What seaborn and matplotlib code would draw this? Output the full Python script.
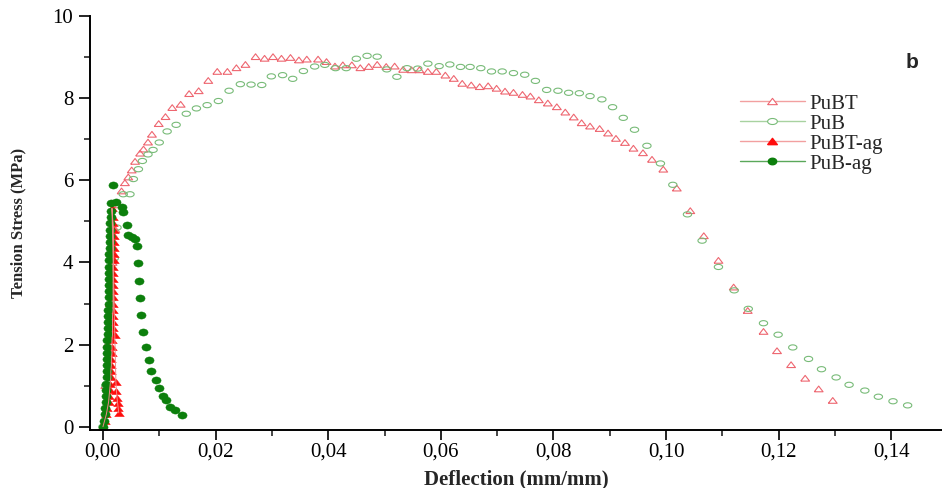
import numpy as np
import matplotlib
matplotlib.use('Agg')
import matplotlib.pyplot as plt
from matplotlib.lines import Line2D
from matplotlib.ticker import MultipleLocator, FuncFormatter
import seaborn as sns

# PuBT (open triangles)
pubt_x = [0.0000, 0.0004, 0.0008, 0.0012, 0.0017, 0.0022, 0.0028, 0.0033, 0.0039, 0.0045,
          0.0051, 0.0057, 0.0066, 0.0072, 0.0080, 0.0087, 0.0099, 0.0111, 0.0123, 0.0138,
          0.0153, 0.0170, 0.0187, 0.0203, 0.0221, 0.0237, 0.0253, 0.0271, 0.0287, 0.0302,
          0.0317, 0.0333, 0.0348, 0.0362, 0.0382, 0.0397, 0.0412, 0.0426, 0.0442, 0.0457,
          0.0472, 0.0487, 0.0503, 0.0518, 0.0533, 0.0548, 0.0562, 0.0577, 0.0592, 0.0608,
          0.0623, 0.0638, 0.0654, 0.0669, 0.0684, 0.0699, 0.0714, 0.0729, 0.0745, 0.0759,
          0.0774, 0.0790, 0.0806, 0.0821, 0.0836, 0.0850, 0.0865, 0.0882, 0.0897, 0.0911,
          0.0927, 0.0942, 0.0959, 0.0975, 0.0995, 0.1019, 0.1043, 0.1067, 0.1093, 0.1120,
          0.1145, 0.1173, 0.1197, 0.1222, 0.1247, 0.1271, 0.1296]
pubt_y = [0.00, 1.00, 2.00, 3.00, 4.00, 4.80, 5.40, 5.74, 5.94, 6.08,
          6.25, 6.46, 6.66, 6.76, 6.93, 7.12, 7.38, 7.55, 7.77, 7.85,
          8.11, 8.18, 8.43, 8.65, 8.65, 8.74, 8.82, 9.01, 8.97, 9.01,
          8.97, 8.99, 8.93, 8.95, 8.95, 8.89, 8.78, 8.81, 8.81, 8.74,
          8.77, 8.82, 8.77, 8.78, 8.70, 8.69, 8.69, 8.65, 8.65, 8.56,
          8.48, 8.36, 8.32, 8.28, 8.30, 8.24, 8.17, 8.14, 8.09, 8.05,
          7.96, 7.88, 7.79, 7.66, 7.54, 7.40, 7.32, 7.26, 7.15, 7.02,
          6.92, 6.78, 6.67, 6.51, 6.27, 5.81, 5.26, 4.65, 4.05, 3.40,
          2.83, 2.32, 1.85, 1.51, 1.18, 0.92, 0.64]

# PuB (open circles)
pub_x = [0.0000, 0.0005, 0.0010, 0.0015, 0.0020, 0.0025, 0.0036, 0.0048, 0.0054, 0.0063,
         0.0070, 0.0080, 0.0089, 0.0100, 0.0114, 0.0130, 0.0148, 0.0166, 0.0185, 0.0205,
         0.0224, 0.0244, 0.0263, 0.0282, 0.0299, 0.0319, 0.0337, 0.0356, 0.0376, 0.0394,
         0.0413, 0.0432, 0.0450, 0.0469, 0.0487, 0.0504, 0.0522, 0.0540, 0.0559, 0.0577,
         0.0597, 0.0616, 0.0635, 0.0652, 0.0671, 0.0690, 0.0709, 0.0729, 0.0749, 0.0768,
         0.0788, 0.0808, 0.0827, 0.0846, 0.0865, 0.0886, 0.0905, 0.0924, 0.0944, 0.0966,
         0.0990, 0.1012, 0.1038, 0.1064, 0.1093, 0.1121, 0.1146, 0.1173, 0.1199, 0.1225,
         0.1253, 0.1276, 0.1302, 0.1325, 0.1353, 0.1377, 0.1403, 0.1429]
pub_y = [0.00, 1.00, 2.10, 3.10, 4.10, 4.85, 5.66, 5.66, 6.03, 6.27,
         6.47, 6.63, 6.74, 6.92, 7.19, 7.35, 7.62, 7.75, 7.83, 7.93,
         8.18, 8.34, 8.33, 8.32, 8.53, 8.56, 8.47, 8.66, 8.77, 8.81,
         8.73, 8.73, 8.96, 9.03, 9.01, 8.70, 8.52, 8.73, 8.72, 8.84,
         8.78, 8.82, 8.76, 8.76, 8.73, 8.65, 8.65, 8.61, 8.57, 8.42,
         8.20, 8.18, 8.13, 8.12, 8.05, 7.97, 7.78, 7.52, 7.23, 6.84,
         6.41, 5.89, 5.17, 4.53, 3.89, 3.32, 2.87, 2.52, 2.24, 1.93,
         1.65, 1.40, 1.20, 1.02, 0.88, 0.73, 0.62, 0.52]

# PuBT-ag (filled triangles)
pubt_ag_x = [0.0000, 0.0003, 0.0006, 0.0008, 0.0010, 0.0011, 0.0012, 0.0013, 0.0014, 0.0014,
             0.0015, 0.0015, 0.0016, 0.0016, 0.0016, 0.0017, 0.0017, 0.0017, 0.0017, 0.0018,
             0.0018, 0.0018, 0.0018, 0.0018, 0.0018, 0.0018, 0.0018, 0.0019, 0.0019, 0.0019,
             0.0019, 0.0019, 0.0019, 0.0018, 0.0017, 0.0016,
             0.0021, 0.0023, 0.0024, 0.0025, 0.0026, 0.0027, 0.0028]
pubt_ag_y = [0.00, 0.15, 0.30, 0.45, 0.60, 0.75, 0.90, 1.05, 1.20, 1.35,
             1.50, 1.65, 1.80, 1.95, 2.10, 2.25, 2.40, 2.55, 2.70, 2.85,
             3.00, 3.15, 3.30, 3.45, 3.60, 3.75, 3.90, 4.05, 4.20, 4.35,
             4.50, 4.65, 4.80, 4.95, 5.10, 5.32,
             2.24, 1.08, 0.86, 0.70, 0.58, 0.46, 0.34]

# PuB-ag (filled circles)
pub_ag_x = [0.0000, 0.0002, 0.0003, 0.0004, 0.0005, 0.0005, 0.0006, 0.0006, 0.0007, 0.0007,
            0.0007, 0.0008, 0.0008, 0.0008, 0.0008, 0.0009, 0.0009, 0.0009, 0.0009, 0.0009,
            0.0010, 0.0010, 0.0010, 0.0010, 0.0010, 0.0011, 0.0011, 0.0011, 0.0011, 0.0012,
            0.0012, 0.0012, 0.0013, 0.0013, 0.0014, 0.0014, 0.0015, 0.0018,
            0.0023, 0.0033, 0.0036, 0.0042, 0.0045, 0.0051, 0.0057, 0.0061, 0.0063, 0.0064,
            0.0066, 0.0067, 0.0072, 0.0076, 0.0082, 0.0086, 0.0095, 0.0100, 0.0106, 0.0112,
            0.0119, 0.0128, 0.0140]
pub_ag_y = [0.00, 0.15, 0.30, 0.45, 0.60, 0.75, 0.90, 1.05, 1.20, 1.35,
            1.50, 1.65, 1.80, 1.95, 2.10, 2.25, 2.40, 2.55, 2.70, 2.85,
            3.00, 3.15, 3.30, 3.45, 3.60, 3.75, 3.90, 4.05, 4.20, 4.35,
            4.50, 4.65, 4.80, 4.95, 5.10, 5.25, 5.45, 5.89,
            5.48, 5.36, 5.24, 4.92, 4.67, 4.62, 4.57, 4.41, 3.98, 3.54,
            3.13, 2.71, 2.30, 1.94, 1.63, 1.35, 1.14, 0.94, 0.76, 0.64,
            0.49, 0.40, 0.29]

labels = ['PuBT', 'PuB', 'PuBT-ag', 'PuB-ag']

sns.set_style('ticks')
plt.rcParams['font.family'] = ['Liberation Serif', 'DejaVu Serif']

# wide markers (the source picture is stretched sideways)
tri = [(-1, -0.65), (1, -0.65), (0, 0.65), (-1, -0.65)]
t = np.linspace(0, 2 * np.pi, 40)
oval = list(zip(np.cos(t), 0.62 * np.sin(t)))
dot = list(zip(np.cos(t), 0.78 * np.sin(t)))

c_pubt = '#ee6670'
c_pub = '#78bb78'
c_red = '#ff0d0d'
c_green = '#0c7f0c'

fig = plt.figure(figsize=(9.42, 4.88), dpi=100)
ax = fig.add_axes([90 / 942, 58 / 488, 852 / 942, 414 / 488])

sns.scatterplot(x=pubt_x, y=pubt_y, marker=tri, s=40, color=c_pubt,
                facecolor='none', edgecolor=c_pubt, linewidth=0.8, ax=ax)
sns.scatterplot(x=pub_x, y=pub_y, marker=oval, s=36, color=c_pub,
                facecolor='none', edgecolor=c_pub, linewidth=0.8, ax=ax)
sns.lineplot(x=pubt_ag_x, y=pubt_ag_y, sort=False, estimator=None,
             color='#f08a8a', linewidth=0.7, ax=ax)
sns.scatterplot(x=pubt_ag_x, y=pubt_ag_y, marker=tri, s=48, color=c_red,
                edgecolor=c_red, linewidth=0.3, ax=ax)
sns.scatterplot(x=pub_ag_x, y=pub_ag_y, marker=dot, s=44, color=c_green,
                edgecolor=c_green, linewidth=0.3, ax=ax)

ax.set_xlim(-0.0023, 0.149)
ax.set_ylim(-0.08, 10)

sns.despine(ax=ax)
for side in ['left', 'bottom']:
    ax.spines[side].set_linewidth(1.4)
    ax.spines[side].set_color('black')

ax.xaxis.set_major_locator(MultipleLocator(0.02))
ax.xaxis.set_minor_locator(MultipleLocator(0.01))
ax.yaxis.set_major_locator(MultipleLocator(2))
ax.yaxis.set_minor_locator(MultipleLocator(1))
ax.xaxis.set_major_formatter(FuncFormatter(lambda v, p: f'{v:.2f}'.replace('.', ',')))
ax.yaxis.set_major_formatter(FuncFormatter(lambda v, p: f'{v:.0f}'))
ax.tick_params(which='major', direction='out', length=7, width=1.2, labelsize=15,
               colors='black', pad=2)
ax.tick_params(which='minor', direction='out', length=4, width=1.2)
ax.tick_params(axis='y', which='major', length=8, pad=4)

ax.set_xlabel('Deflection (mm/mm)', fontsize=15, fontweight='bold')
ax.set_ylabel('Tension Stress (MPa)', fontsize=12, fontweight='bold')
ax.xaxis.set_label_coords(0.5, -0.095)
ax.yaxis.set_label_coords(-0.075, 0.5)

handles = [
    Line2D([], [], color='#f2a0a0', lw=1.0, marker=tri, markersize=7,
           markerfacecolor='white', markeredgecolor=c_pubt, markeredgewidth=0.8),
    Line2D([], [], color='#a8d2a0', lw=1.0, marker=oval, markersize=7,
           markerfacecolor='white', markeredgecolor=c_pub, markeredgewidth=0.8),
    Line2D([], [], color='#f2a0a0', lw=1.0, marker=tri, markersize=7,
           markerfacecolor=c_red, markeredgecolor=c_red),
    Line2D([], [], color='#5aa85a', lw=1.0, marker=dot, markersize=6,
           markerfacecolor=c_green, markeredgecolor=c_green),
]
fig.legend(handles, labels, loc='upper left', bbox_to_anchor=(740 / 942, 1 - 94 / 488),
           frameon=False, fontsize=15, handlelength=3.1, handletextpad=0.25,
           labelspacing=0.02, borderpad=0, borderaxespad=0)

fig.text(912 / 942, 1 - 62 / 488, 'b', fontsize=15, fontweight='bold',
         family=['Liberation Sans', 'DejaVu Sans'], ha='center', va='center')

fig.savefig('out.png', dpi=100)
